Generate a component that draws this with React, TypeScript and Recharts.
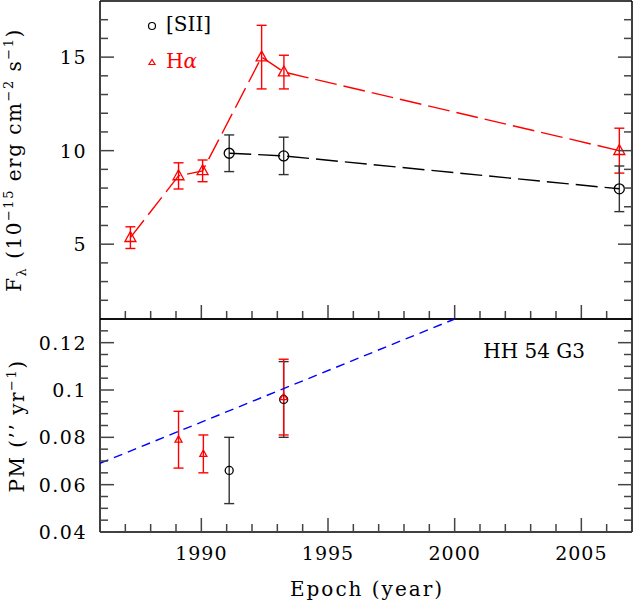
import React from "react";
import { ComposedChart, Scatter, XAxis, YAxis, ErrorBar } from "recharts";

const FONT = "'DejaVu Serif', serif";
const RED = "#ff0000";
const BLACK = "#000000";
const BLUE = "#0000ff";

// epoch axis (shared by both panels)
const epochDomain = [1986, 2007];
const epochMajor = [1990, 1995, 2000, 2005];
const epochMinor = [
  1987, 1988, 1989, 1991, 1992, 1993, 1994, 1996, 1997, 1998, 1999, 2001,
  2002, 2003, 2004, 2006,
];

// upper panel: flux
const fluxDomain = [1, 18];
const fluxMajor = [5, 10, 15];
const fluxMinor = [2, 3, 4, 6, 7, 8, 9, 11, 12, 13, 14, 16, 17];

const siiEpoch = [1991.1, 1993.25, 2006.5];
const siiFlux = [9.86, 9.72, 7.96];
const siiFluxErr = [0.98, 1.0, 1.22];

const haEpoch = [1987.2, 1989.1, 1990.05, 1992.38, 1993.26, 2006.5];
const haFlux = [5.35, 8.65, 8.92, 15.0, 14.2, 10.0];
const haFluxErr = [0.58, 0.7, 0.58, 1.7, 0.9, 1.2];

// lower panel: proper motion
const pmDomain = [0.04, 0.13];
const pmMajor = [0.04, 0.06, 0.08, 0.1, 0.12];
const pmMinor = [
  0.045, 0.05, 0.055, 0.065, 0.07, 0.075, 0.085, 0.09, 0.095, 0.105, 0.11,
  0.115, 0.125,
];

const pmSiiEpoch = [1991.1, 1993.25];
const pmSii = [0.066, 0.096];
const pmSiiErr = [0.014, 0.016];

const pmHaEpoch = [1989.1, 1990.08, 1993.25];
const pmHa = [0.079, 0.073, 0.097];
const pmHaErr = [0.012, 0.008, 0.016];

const fitEpoch = [1986, 2000];
const fitPm = [0.069, 0.13];

const toPoints = (xs: number[], ys: number[], es?: number[]) =>
  xs.map((x, i) => ({ x, y: ys[i], e: es ? es[i] : 0 }));

const none = () => <g />;
const axisLine = { stroke: "#000", strokeWidth: 1.5 };

type Side = "bottom" | "top" | "left" | "right";

// draws an inward tick mark (longer for major values) and, optionally, the label
const makeTick = (side: Side, major: number[], label: boolean) => (p: any) => {
  const v = p.payload.value;
  const isMajor = major.some((m) => Math.abs(m - v) < 1e-9);
  const len = isMajor ? 14 : 8;
  const { x, y } = p;
  let end = { x2: x, y2: y };
  if (side === "bottom") end = { x2: x, y2: y - len };
  if (side === "top") end = { x2: x, y2: y + len };
  if (side === "left") end = { x2: x + len, y2: y };
  if (side === "right") end = { x2: x - len, y2: y };
  let text = null;
  if (label && isMajor) {
    text =
      side === "bottom" ? (
        <text x={x} y={y + 28} textAnchor="middle" fontFamily={FONT} fontSize={19}
          letterSpacing={1} fill="#000">
          {String(v)}
        </text>
      ) : (
        <text x={x - 13} y={y + 7} textAnchor="end" fontFamily={FONT} fontSize={19}
          letterSpacing={1.5} fill="#000">
          {String(v)}
        </text>
      );
  }
  return (
    <g>
      <line x1={x} y1={y} {...end} stroke="#444" strokeWidth={1.5} />
      {text}
    </g>
  );
};

function frame(yDomain: number[], yMajor: number[], yMinor: number[], xLabels: boolean) {
  const common = {
    type: "number" as const,
    allowDataOverflow: true,
    interval: 0 as const,
    tickSize: 0,
    tickMargin: 0,
    tickLine: false,
    axisLine,
  };
  const xTicks = [...epochMajor, ...epochMinor].sort((a, b) => a - b);
  const yTicks = [...yMajor, ...yMinor].sort((a, b) => a - b);
  return [
    <XAxis key="xb" xAxisId="x" dataKey="x" {...common} domain={epochDomain} ticks={xTicks}
      orientation="bottom" height={1} tick={makeTick("bottom", epochMajor, xLabels)} />,
    <XAxis key="xt" xAxisId="xt" {...common} domain={epochDomain} ticks={xTicks}
      orientation="top" height={1} tick={makeTick("top", epochMajor, false)} />,
    <YAxis key="yl" yAxisId="y" dataKey="y" {...common} domain={yDomain} ticks={yTicks}
      orientation="left" width={1} tick={makeTick("left", yMajor, true)} />,
    <YAxis key="yr" yAxisId="yr" {...common} domain={yDomain} ticks={yTicks}
      orientation="right" width={1} tick={makeTick("right", yMajor, false)} />,
  ];
}

const circle = (r: number) => (p: any) =>
  <circle cx={p.cx} cy={p.cy} r={r} fill="none" stroke={BLACK} strokeWidth={1.3} />;

const triangle = (s: number) => (p: any) => (
  <polygon
    points={`${p.cx},${p.cy - s * 0.55} ${p.cx - s / 2},${p.cy + s * 0.35} ${p.cx + s / 2},${p.cy + s * 0.35}`}
    fill="none"
    stroke={RED}
    strokeWidth={1.3}
  />
);

export default function App() {
  return (
    <div style={{ position: "absolute", left: 0, top: 0, width: 633, height: 602, background: "#fff" }}>
      {/* upper panel */}
      <div style={{ position: "absolute", left: 0, top: 0 }}>
        <ComposedChart width={633} height={602} margin={{ top: 0, right: 0, bottom: 282, left: 99 }}>
          {frame(fluxDomain, fluxMajor, fluxMinor, false)}
          <Scatter name="Hα" xAxisId="x" yAxisId="y" data={toPoints(haEpoch, haFlux, haFluxErr)}
            isAnimationActive={false} lineType="joint"
            line={{ stroke: RED, strokeWidth: 1.4, strokeDasharray: "22 7" }} shape={triangle(11)}>
            <ErrorBar dataKey="e" direction="y" width={5} stroke={RED} strokeWidth={1.4} isAnimationActive={false} />
          </Scatter>
          <Scatter name="[SII]" xAxisId="x" yAxisId="y" data={toPoints(siiEpoch, siiFlux, siiFluxErr)}
            isAnimationActive={false} lineType="joint"
            line={{ stroke: BLACK, strokeWidth: 1.4, strokeDasharray: "22 7" }} shape={circle(5)}>
            <ErrorBar dataKey="e" direction="y" width={5} stroke="#333" strokeWidth={1.4} isAnimationActive={false} />
          </Scatter>
        </ComposedChart>
      </div>

      {/* lower panel */}
      <div style={{ position: "absolute", left: 0, top: 0 }}>
        <ComposedChart width={633} height={602} margin={{ top: 318, right: 0, bottom: 69, left: 99 }}>
          {frame(pmDomain, pmMajor, pmMinor, true)}
          <Scatter name="fit" xAxisId="x" yAxisId="y" data={toPoints(fitEpoch, fitPm)}
            isAnimationActive={false} lineType="joint"
            line={{ stroke: BLUE, strokeWidth: 1.4, strokeDasharray: "9 6" }} shape={none} />
          <Scatter name="[SII]" xAxisId="x" yAxisId="y" data={toPoints(pmSiiEpoch, pmSii, pmSiiErr)}
            isAnimationActive={false} shape={circle(4)}>
            <ErrorBar dataKey="e" direction="y" width={5} stroke="#333" strokeWidth={1.4} isAnimationActive={false} />
          </Scatter>
          <Scatter name="Hα" xAxisId="x" yAxisId="y" data={toPoints(pmHaEpoch, pmHa, pmHaErr)}
            isAnimationActive={false} shape={triangle(7)}>
            <ErrorBar dataKey="e" direction="y" width={5} stroke={RED} strokeWidth={1.4} isAnimationActive={false} />
          </Scatter>
        </ComposedChart>
      </div>

      {/* titles, legend and annotation */}
      <svg width={633} height={602} style={{ position: "absolute", left: 0, top: 0, pointerEvents: "none" }}
        fontFamily={FONT}>
        <text transform="translate(21,160) rotate(-90)" textAnchor="middle" fontSize={20}
          letterSpacing={1.5} style={{ whiteSpace: "pre" }}>
          F<tspan fontSize={13} dy={5}>λ</tspan>
          <tspan dy={-5}>{" (10"}</tspan>
          <tspan fontSize={13} dy={-8}>−15</tspan>
          <tspan dy={8}>{" erg cm"}</tspan>
          <tspan fontSize={13} dy={-8}>−2</tspan>
          <tspan dy={8}>{" s"}</tspan>
          <tspan fontSize={13} dy={-8}>−1</tspan>
          <tspan dy={8}>)</tspan>
        </text>
        <text transform="translate(24,426) rotate(-90)" textAnchor="middle" fontSize={20}
          letterSpacing={1.5} style={{ whiteSpace: "pre" }}>
          {"PM (’’ yr"}
          <tspan fontSize={13} dy={-8}>−1</tspan>
          <tspan dy={8}>)</tspan>
        </text>
        <text x={367} y={596} textAnchor="middle" fontSize={20} letterSpacing={2}>
          Epoch (year)
        </text>

        <circle cx={152} cy={26} r={3.5} fill="none" stroke={BLACK} strokeWidth={1.2} />
        <text x={166} y={31} fontSize={20}>[SII]</text>
        <polygon points="152,59.5 149,64.5 155,64.5" fill="none" stroke={RED} strokeWidth={1.2} />
        <text x={166} y={68} fontSize={20} fill={RED}>
          H<tspan fontStyle="italic">α</tspan>
        </text>

        <text x={585} y={358} textAnchor="end" fontSize={20}>HH 54 G3</text>
      </svg>
    </div>
  );
}
